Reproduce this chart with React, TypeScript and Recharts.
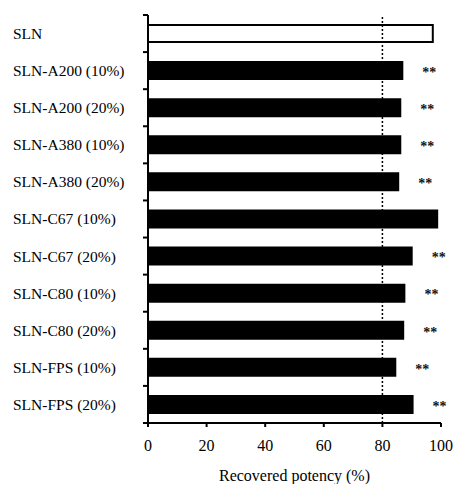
import { BarChart, Bar, XAxis, YAxis, ReferenceLine, LabelList, Cell } from 'recharts'

const categories = [
  'SLN', 'SLN-A200 (10%)', 'SLN-A200 (20%)', 'SLN-A380 (10%)', 'SLN-A380 (20%)',
  'SLN-C67 (10%)', 'SLN-C67 (20%)', 'SLN-C80 (10%)', 'SLN-C80 (20%)',
  'SLN-FPS (10%)', 'SLN-FPS (20%)',
]
const potency = [97.2, 86.8, 86.1, 86.1, 85.4, 98.7, 90.0, 87.5, 87.1, 84.4, 90.3]
const significance = ['', '**', '**', '**', '**', '', '**', '**', '**', '**', '**']
const xTicks = [0, 20, 40, 60, 80, 100]
const threshold = 80

const data = categories.map((name, i) => ({ name, potency: potency[i], sig: significance[i] }))

const W = 455
const H = 484
const TOP = 15
const BOTTOM = 61
const AXIS_X = 148
const BAND = (H - TOP - BOTTOM) / categories.length
const FONT = '"Liberation Serif", "Times New Roman", serif'

function YTick(props: any) {
  const { y, payload, index } = props
  const i = index ?? payload.index
  return (
    <g>
      <text x={13} y={y} dy="0.35em" textAnchor="start" fontFamily={FONT} fontSize={15.5} fill="#000">
        {payload.value}
      </text>
      <line x1={AXIS_X - 5} x2={AXIS_X} y1={y - BAND / 2} y2={y - BAND / 2} stroke="#000" strokeWidth={2} />
      {i === categories.length - 1 && (
        <line x1={AXIS_X - 5} x2={AXIS_X} y1={y + BAND / 2} y2={y + BAND / 2} stroke="#000" strokeWidth={2} />
      )}
    </g>
  )
}

function Stars(props: any) {
  const { x, y, width, height, value } = props
  if (!value) return null
  return (
    <text x={x + width + 27} y={y + height / 2} dy="0.45em" textAnchor="middle" fontFamily={FONT} fontSize={14} fontWeight="bold" fill="#111">
      {value}
    </text>
  )
}

export default function App() {
  return (
    <div style={{ position: 'absolute', left: 0, top: 0, background: '#fff' }}>
      <BarChart
        width={W}
        height={H}
        data={data}
        layout="vertical"
        margin={{ top: TOP, right: W - 441, left: 0, bottom: 0 }}
      >
        <XAxis
          type="number"
          domain={[0, 100]}
          ticks={xTicks}
          height={BOTTOM}
          axisLine={{ stroke: '#000', strokeWidth: 2 }}
          tickLine={{ stroke: '#000', strokeWidth: 2 }}
          tickSize={4}
          tickMargin={13}
          tick={{ fontFamily: FONT, fontSize: 16, fill: '#000' }}
          label={{ value: 'Recovered potency (%)', position: 'insideBottom', offset: 3, fontFamily: FONT, fontSize: 16, fill: '#000' }}
        />
        <YAxis
          type="category"
          dataKey="name"
          width={AXIS_X}
          axisLine={{ stroke: '#000', strokeWidth: 2 }}
          tickLine={false}
          tick={<YTick />}
          interval={0}
        />
        <ReferenceLine x={threshold} stroke="#000" strokeWidth={1.5} strokeDasharray="2 2" />
        <Bar dataKey="potency" barSize={17} stroke="#000" strokeWidth={2} isAnimationActive={false}>
          {data.map((d, i) => (
            <Cell key={d.name} fill={i === 0 ? '#fff' : '#000'} />
          ))}
          <LabelList dataKey="sig" content={<Stars />} />
        </Bar>
      </BarChart>
    </div>
  )
}
